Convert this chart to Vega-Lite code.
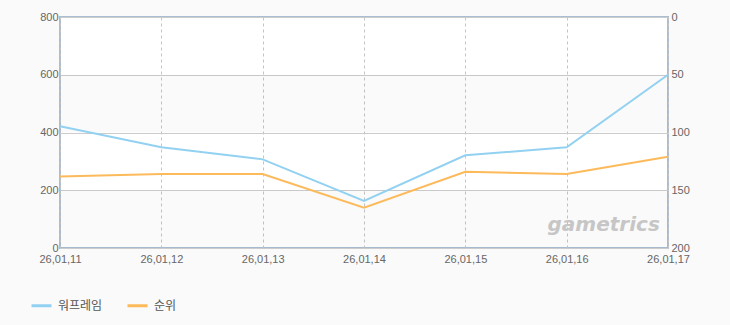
{
  "$schema": "https://vega.github.io/schema/vega-lite/v6.json",
  "autosize": {"type": "none"},
  "width": 608,
  "height": 231,
  "padding": {"left": 60, "top": 17, "right": 62, "bottom": 77},
  "background": "#fafafa",
  "config": {
    "view": {"stroke": "#abbdd1", "strokeWidth": 2, "fill": "white"},
    "font": "Liberation Sans",
    "axis": {"labelColor": "#666666", "labelFontSize": 11, "domain": false, "ticks": false, "title": null}
  },
  "datasets": {
    "main": [
      {"date": "26,01,11", "frame": 422, "rank": 138},
      {"date": "26,01,12", "frame": 349, "rank": 136},
      {"date": "26,01,13", "frame": 307, "rank": 136},
      {"date": "26,01,14", "frame": 163, "rank": 165},
      {"date": "26,01,15", "frame": 321, "rank": 134},
      {"date": "26,01,16", "frame": 349, "rank": 136},
      {"date": "26,01,17", "frame": 600, "rank": 121}
    ],
    "bands": [
      {"lo": 400, "hi": 600},
      {"lo": 0, "hi": 200}
    ],
    "logo": [
      {"date": "26,01,16", "v": 78, "t": "gametrics"}
    ]
  },
  "layer": [
    {
      "data": {"name": "bands"},
      "mark": {"type": "rect", "fill": "#000000", "opacity": 0.02},
      "encoding": {
        "y": {"field": "lo", "type": "quantitative", "scale": {"domain": [0, 800]}, "axis": null},
        "y2": {"field": "hi"}
      }
    },
    {
      "data": {"name": "main"},
      "mark": {"type": "line", "strokeWidth": 2},
      "encoding": {
        "x": {"field": "date", "type": "ordinal", "scale": {"type": "point", "padding": 0},
          "axis": {"labelAngle": 0, "labelPadding": 5, "grid": true, "gridDash": [3, 3], "gridColor": "#c4c4c4", "labelColor": "#666666"}},
        "y": {"field": "frame", "type": "quantitative", "scale": {"domain": [0, 800]},
          "axis": {"orient": "left", "values": [0, 200, 400, 600, 800], "grid": true, "gridColor": "#cccccc", "labelPadding": 2}},
        "color": {"datum": "워프레임", "type": "nominal",
          "scale": {"domain": ["워프레임", "순위"], "range": ["#92d1f1", "#fdba5b"]},
          "legend": {"orient": "none", "legendX": -30, "legendY": 277, "direction": "horizontal", "title": null,
            "symbolType": "stroke", "symbolSize": 400, "symbolStrokeWidth": 3, "labelFont": "Noto Sans CJK KR",
            "labelFontSize": 12, "labelColor": "#555555", "columnPadding": 18, "labelOffset": 5}}
      }
    },
    {
      "data": {"name": "main"},
      "mark": {"type": "line", "strokeWidth": 2},
      "encoding": {
        "x": {"field": "date", "type": "ordinal", "scale": {"type": "point", "padding": 0}},
        "y": {"field": "rank", "type": "quantitative", "scale": {"domain": [0, 200], "reverse": true},
          "axis": {"orient": "right", "values": [0, 50, 100, 150, 200], "grid": false, "labelPadding": 3}},
        "color": {"datum": "순위", "type": "nominal"}
      }
    },
    {
      "data": {"name": "logo"},
      "mark": {"type": "text", "font": "DejaVu Sans", "fontSize": 20, "fontWeight": "bold", "fontStyle": "italic", "color": "#c6c6c6", "dx": 37, "align": "center", "baseline": "middle"},
      "encoding": {
        "x": {"field": "date", "type": "ordinal", "scale": {"type": "point", "padding": 0}},
        "y": {"field": "v", "type": "quantitative", "scale": {"domain": [0, 800]}, "axis": null},
        "text": {"field": "t"}
      }
    }
  ],
  "resolve": {"scale": {"y": "independent"}}
}
